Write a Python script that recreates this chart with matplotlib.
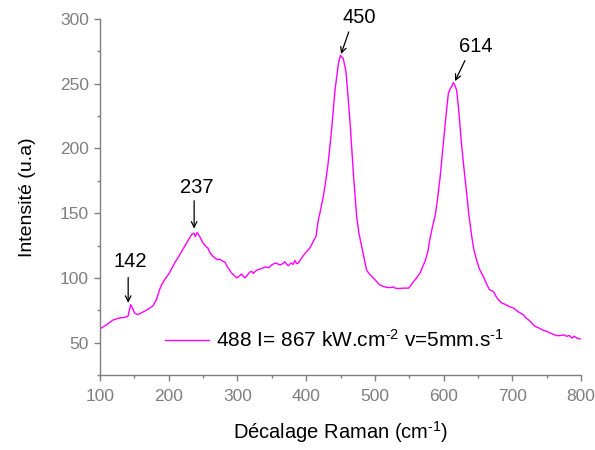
import numpy as np
import matplotlib
matplotlib.use("Agg")
import matplotlib.pyplot as plt
from matplotlib.ticker import MultipleLocator

plt.rcParams['font.family'] = ['Liberation Sans', 'DejaVu Sans']
plt.rcParams['mathtext.fontset'] = 'custom'
plt.rcParams['mathtext.rm'] = 'Liberation Sans'
plt.rcParams['mathtext.it'] = 'Liberation Sans'
plt.rcParams['mathtext.default'] = 'regular'

raman_shift = [100, 102, 110, 119, 128, 136, 140.8, 144.6, 147, 150.4, 155, 160, 167.4, 172, 177,
               182, 186.7, 190, 194, 200, 208.6, 215, 223, 228, 233, 236.8, 238.6, 241.5, 245,
               250, 253, 257, 260, 264.5, 270.6, 274, 277, 282, 286, 291.5, 295, 299, 303, 306,
               309, 311, 315, 318, 320.8, 323, 328, 334, 340, 346, 350, 354.7, 358, 362, 366,
               369, 372, 374, 378, 381, 383.8, 386, 388.6, 393, 397, 400.7, 404, 408, 411,
               414.4, 417.8, 420, 425, 428, 432, 437, 442, 447, 450, 452, 454, 458, 461, 464,
               468.7, 473.5, 477, 480.8, 484, 488, 492, 497.8, 502, 506.6, 512, 517, 522, 527,
               530, 534, 540, 545, 548.7, 552, 556, 560, 565.8, 569, 573, 577, 580, 584, 587.6,
               591, 595, 598, 602, 605, 607, 610, 612, 614, 616, 619, 622, 626, 630, 633.6, 637,
               641, 644, 648, 652, 658, 662, 666.6, 670, 672.5, 676, 680, 684.6, 690, 695, 701.6,
               708, 716, 720, 725, 733, 740, 745, 750, 757, 764.6, 770, 775, 779, 783, 787, 790,
               794, 798.7]
intensity = [60.5, 61.3, 64, 67.5, 69, 69.5, 70.5, 79.3, 77, 72.9, 71.6, 73, 75, 76.5, 78.5,
             83, 91, 95, 98.6, 103, 111.5, 117, 124.3, 129, 133.3, 134.6, 132, 135, 132,
             126.9, 125, 123, 119.5, 116.6, 114, 114.5, 113.5, 112, 108, 103.8, 102, 100, 101.5, 103,
             101, 100, 102.5, 104.5, 105, 103.5, 106, 107, 108.4, 108, 110, 111.5, 111, 110, 111,
             112.5, 110.5, 109.4, 111.5, 110.5, 113.5, 111, 111.5, 115, 118, 120.5, 122, 125.6, 129,
             132, 145, 150, 163, 173, 188.6, 214, 245, 265.8, 272, 270.5, 269.6, 259, 240, 219.5,
             181, 147.5, 134, 124.3, 116, 106, 103, 100, 97.5, 94.8, 93.5, 92.7, 92.5, 93,
             92, 91.8, 92, 92.2, 92, 94, 97, 99.5, 103.8, 108, 112.7, 120, 129.5, 140, 147.5,
             160, 178, 195, 217, 233, 242.7, 246.5, 248, 250.8, 249.5, 245, 230, 204, 183, 165.5, 148,
             132, 122, 114, 107, 101, 96, 91, 90, 89.6, 86, 83, 80.6, 79.5, 78, 76.8,
             74, 71.6, 69, 67, 62.6, 61, 59.5, 58.7, 57, 55.4, 55.5, 56, 54.9, 55.5, 53.5, 55,
             53.5, 52.8]

peak_labels = ["142", "237", "450", "614"]
peak_positions = [142, 237, 450, 614]
series_label = r"488 I= 867 kW.cm$^{\text{-2}}$ v=5mm.s$^{\text{-1}}$"

fig = plt.figure(figsize=(5.95, 4.5), dpi=100)
ax = fig.add_axes([100/595, 1 - 375/450, 481/595, 356/450])

ax.plot(raman_shift, intensity, color='#FF00FF', lw=1.0, label=series_label)

ax.set_xlim(100, 800)
ax.set_ylim(25, 300)
ax.xaxis.set_major_locator(MultipleLocator(100))
ax.xaxis.set_minor_locator(MultipleLocator(50))
ax.yaxis.set_major_locator(MultipleLocator(50))
ax.yaxis.set_minor_locator(MultipleLocator(25))

gray = '#7f7f7f'
for s in ['top', 'right']:
    ax.spines[s].set_visible(False)
for s in ['left', 'bottom']:
    ax.spines[s].set_color(gray)
    ax.spines[s].set_linewidth(1.0)
ax.tick_params(which='major', direction='out', length=4, width=1.0, color=gray,
               labelcolor=gray, labelsize=12.5)
ax.tick_params(which='minor', direction='out', length=2.5, width=1.0, color=gray)
ax.tick_params(axis='x', which='major', pad=6)
ax.tick_params(axis='y', which='major', pad=4)

ax.set_xlabel(r"Décalage Raman (cm$^{\text{-1}}$)", fontsize=14.5, color='black', labelpad=11)
ax.set_ylabel("Intensité (u.a)", fontsize=14, color='black', labelpad=17)

# annotations: (text offset dx, dy), arrow start offset, arrow tip offset relative to the local peak
offsets = [
    ((1.5, 33), (-1, 21), (-1, 1.5)),
    ((4, 35), (0, 25), (0, 3.5)),
    ((27, 29), (12, 18), (0.8, 1)),
    ((33, 28), (17, 17), (2.7, 1.2)),
]
xs = np.array(raman_shift)
ys = np.array(intensity)
for lab, px, (toff, aoff, tipoff) in zip(peak_labels, peak_positions, offsets):
    win = (xs >= px - 4) & (xs <= px + 4)
    py = float(ys[win].max())
    tip = (px + tipoff[0], py + tipoff[1])
    start = (px + aoff[0], py + aoff[1])
    ax.annotate('', xy=tip, xytext=start,
                arrowprops=dict(arrowstyle='->', color='black', lw=0.9,
                                shrinkA=0, shrinkB=0, mutation_scale=10))
    ax.text(px + toff[0], py + toff[1], lab, ha='center', va='center', fontsize=14.5,
            color='black')

leg = ax.legend(loc='center left', bbox_to_anchor=(0.135, 0.098), frameon=False,
                fontsize=15, handlelength=2.1, handletextpad=0.35,
                borderaxespad=0, borderpad=0)

fig.savefig('out.png', dpi=100)
